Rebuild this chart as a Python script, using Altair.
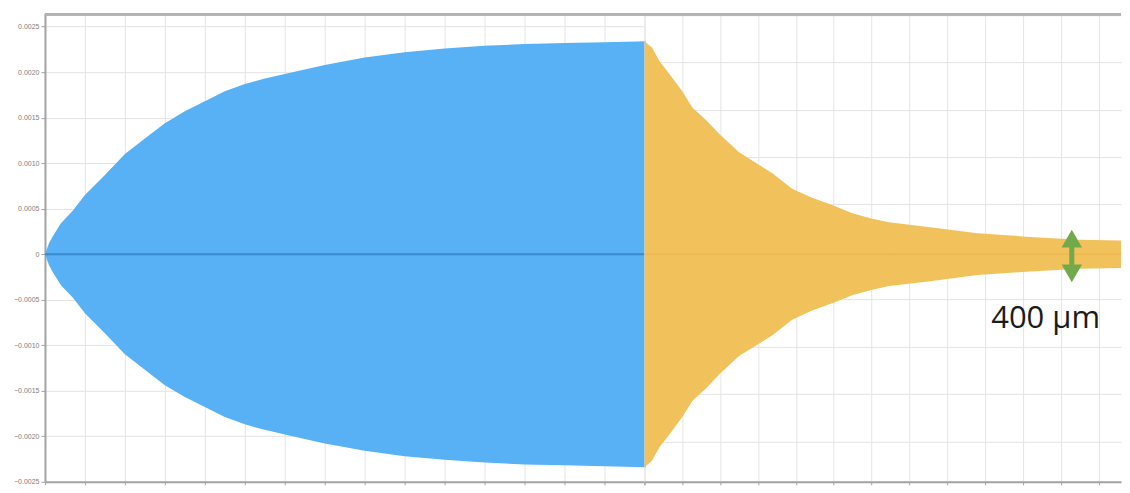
import altair as alt
import pandas as pd

# ---- data ----
# Driven (blue) part: time in left-panel grid units, envelope amplitude
blue_t = [0, 0.1, 0.2, 0.4, 0.7, 1.0, 1.5, 2.0, 2.5, 3.0, 3.5, 4.0, 4.5, 5.0,
          5.5, 6.0, 6.5, 7.0, 8.0, 9.0, 10.0, 11.0, 12.0, 13.0, 14.0, 15.04]
blue_amp = [0, 0.00012, 0.00020, 0.00034, 0.00048, 0.00065, 0.00087, 0.00110,
            0.00127, 0.00144, 0.00157, 0.00168, 0.00179, 0.00187, 0.00193,
            0.00198, 0.00203, 0.00208, 0.00216, 0.00222, 0.00226, 0.00229,
            0.00231, 0.00232, 0.00233, 0.00234]

# Free decay (yellow) part: time in right-panel grid units, envelope amplitude
yellow_t = [0, 0.2, 0.4, 0.66, 1.0, 1.27, 1.64, 1.98, 2.5, 2.96, 3.38, 3.9,
            4.43, 4.96, 5.49, 6.02, 6.46, 7.5, 8.8, 10.2, 11.5, 12.8]
yellow_amp = [0.00234, 0.00227, 0.00212, 0.00198, 0.00179, 0.00161, 0.00147,
              0.00132, 0.00112, 0.00100, 0.00089, 0.00072, 0.00062, 0.00054,
              0.00045, 0.00039, 0.00035, 0.00030, 0.00023, 0.00019, 0.00016,
              0.00015]

y_ticks = [0.0025, 0.002, 0.0015, 0.001, 0.0005, 0, -0.0005, -0.001,
           -0.0015, -0.002, -0.0025]
left_x_ticks = list(range(16))
right_x_ticks = list(range(13))
right_y_grid = [0.0000247 + 0.000521 * k for k in range(-4, 6)]

annot_label = ["400 µm"]
annot_pos = [(10.6, -0.000711)]
arrow_x = [11.29]
arrow_top = [0.000170]
arrow_bot = [-0.000210]
shaft = [(0.000125, -0.000165)]

# ---- tables ----
blue_df = pd.DataFrame({"t": blue_t, "hi": blue_amp,
                        "lo": [-a for a in blue_amp]})
yellow_df = pd.DataFrame({"t": yellow_t, "hi": yellow_amp,
                          "lo": [-a for a in yellow_amp]})
text_df = pd.DataFrame({"t": [p[0] for p in annot_pos],
                        "v": [p[1] for p in annot_pos], "label": annot_label})
top_df = pd.DataFrame({"t": arrow_x, "v": arrow_top})
bot_df = pd.DataFrame({"t": arrow_x, "v": arrow_bot})
shaft_df = pd.DataFrame({"t": arrow_x, "v": [s[0] for s in shaft],
                         "v2": [s[1] for s in shaft]})

GRID = "#e4e4e4"
AX = "#a3a3a3"
ydom = [-0.002501, 0.002637]

yscale = alt.Scale(domain=ydom, nice=False, zero=False)

left_yaxis = alt.Axis(values=y_ticks, title=None,
                      labelExpr="datum.value == 0 ? '0' : format(datum.value, '.4f')",
                      labelFontSize=7, labelColor="#808080", labelFont="Liberation Sans",
                      tickSize=4, tickColor=AX, domainColor=AX, domainWidth=2,
                      gridColor=GRID, labelPadding=2, minExtent=37, maxExtent=37)
left_xaxis = alt.Axis(values=left_x_ticks, labels=False, title=None, tickSize=3,
                      tickColor=AX, domainColor=AX, domainWidth=2, gridColor=GRID)

right_yaxis = alt.Axis(values=right_y_grid, labels=False, ticks=False, domain=False,
                       title=None, gridColor=GRID, minExtent=0, maxExtent=0)
right_xaxis = alt.Axis(values=right_x_ticks, labels=False, title=None, tickSize=3,
                       tickColor=AX, domainColor=AX, domainWidth=2, gridColor=GRID)

lx = alt.Scale(domain=[0, 15], nice=False, zero=False)
rx = alt.Scale(domain=[0, 12.59], nice=False, zero=False)

# top frame line of each screenshot panel
def top_border(df):
    return alt.Chart(df).mark_rule(color="#b3b3b3", strokeWidth=2).encode(
        y=alt.value(0))

# ---- left panel (driven, blue) ----
blue_area = alt.Chart(blue_df).mark_area(color="#58b1f5", opacity=1).encode(
    x=alt.X("t:Q", scale=lx, axis=left_xaxis),
    y=alt.Y("hi:Q", scale=yscale, axis=left_yaxis),
    y2="lo:Q",
)
blue_zero = alt.Chart(blue_df).mark_line(color="#3a88d2", strokeWidth=2,
                                         clip=True).encode(
    x=alt.X("t:Q", scale=lx, axis=left_xaxis),
    y=alt.Y("z:Q", scale=yscale, axis=left_yaxis),
).transform_calculate(z="0")
left = alt.layer(blue_area, blue_zero, top_border(blue_df)).properties(
    width=600, height=468)

# ---- right panel (decay, yellow) ----
def rX(f="t"):
    return alt.X(f"{f}:Q", scale=rx, axis=right_xaxis)

def rY(f):
    return alt.Y(f"{f}:Q", scale=yscale, axis=right_yaxis)

yellow_area = alt.Chart(yellow_df).mark_area(color="#f1c25c", opacity=1,
                                             clip=True).encode(
    x=rX(), y=rY("hi"), y2="lo:Q")
yellow_zero = alt.Chart(yellow_df).mark_line(color="#e2a940", strokeWidth=1,
                                             opacity=0.6, clip=True).encode(
    x=rX(), y=rY("z")).transform_calculate(z="0")
arrow_shaft = alt.Chart(shaft_df).mark_rule(color="#72a94a", strokeWidth=5).encode(
    x=rX(), y=rY("v"), y2="v2:Q")
arrow_up = alt.Chart(top_df).mark_point(shape="triangle-up", filled=True, size=420,
                                        color="#72a94a", opacity=1).encode(
    x=rX(), y=rY("v"))
arrow_down = alt.Chart(bot_df).mark_point(shape="triangle-down", filled=True, size=420,
                                          color="#72a94a", opacity=1).encode(
    x=rX(), y=rY("v"))
label = alt.Chart(text_df).mark_text(fontSize=31, font="Open Sans", color="#1c1c1c",
                                     align="center", baseline="middle").encode(
    x=rX(), y=rY("v"), text="label:N")

right = alt.layer(yellow_area, yellow_zero, arrow_shaft, arrow_up, arrow_down,
                  label, top_border(yellow_df)).properties(width=477, height=468)

chart = alt.hconcat(left, right, spacing=0, bounds="flush").properties(
    padding={"left": 0, "top": 5, "right": 0, "bottom": 0},
    background="white",
).configure_view(stroke=None)

chart.save("out.html", embed_options={"renderer": "svg", "actions": False})
